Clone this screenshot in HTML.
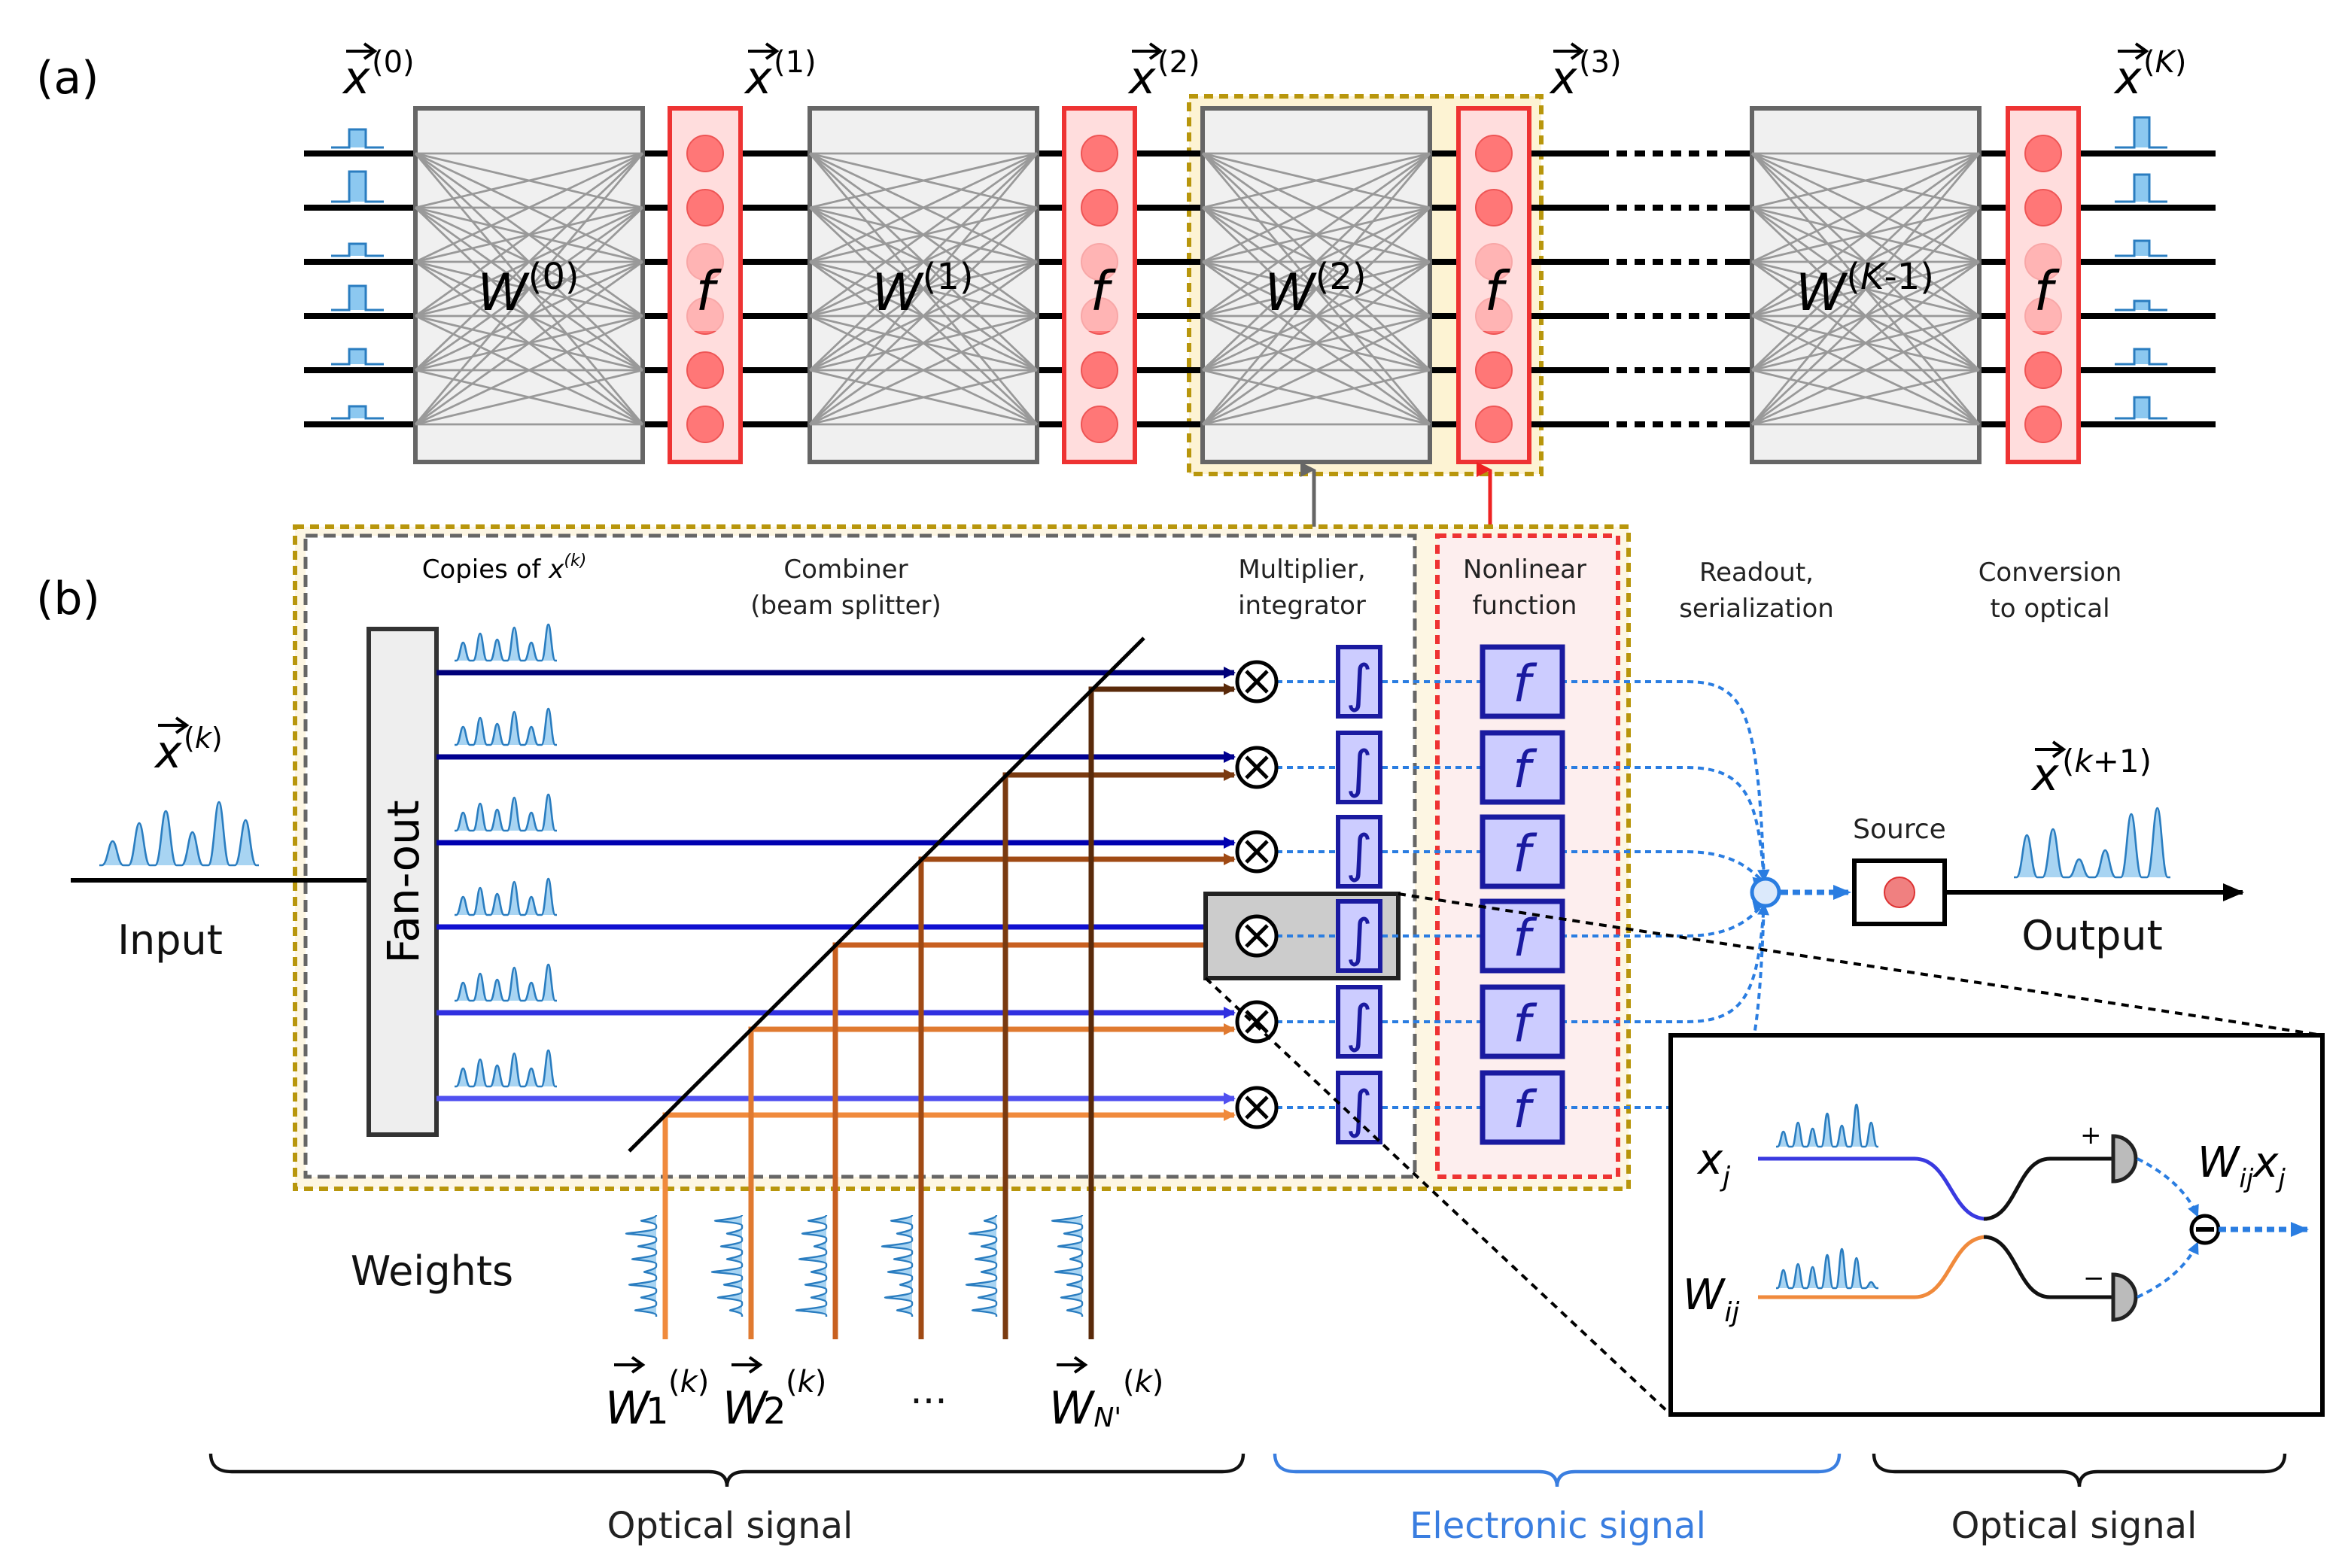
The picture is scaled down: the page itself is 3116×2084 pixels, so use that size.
<!DOCTYPE html>
<html><head><meta charset="utf-8"><style>
html,body{margin:0;padding:0;background:#fff}
svg{display:block}
text{font-family:"DejaVu Sans","Liberation Sans",sans-serif}
.it{font-style:italic}
</style></head><body>
<svg id="s" width="3116" height="2084" viewBox="0 0 1558 1042" xmlns="http://www.w3.org/2000/svg">
<defs>
<marker id="ab" markerWidth="8" markerHeight="8" refX="7" refY="4" orient="auto" markerUnits="userSpaceOnUse"><path d="M0,0 L8,4 L0,8z" fill="context-stroke"/></marker>
<marker id="ak" markerWidth="14" markerHeight="12" refX="13" refY="6" orient="auto" markerUnits="userSpaceOnUse"><path d="M0,0 L14,6 L0,12z" fill="#000"/></marker>
<marker id="abl" markerWidth="12" markerHeight="10" refX="11" refY="5" orient="auto" markerUnits="userSpaceOnUse"><path d="M0,0 L12,5 L0,10z" fill="#2a7de1"/></marker>
<marker id="ag" markerWidth="10" markerHeight="10" refX="5" refY="9" orient="auto-start-reverse" markerUnits="userSpaceOnUse"><path d="M0,0 L5,10 L10,0z" fill="#666"/></marker>
<marker id="ar" markerWidth="10" markerHeight="10" refX="5" refY="9" orient="auto-start-reverse" markerUnits="userSpaceOnUse"><path d="M0,0 L5,10 L10,0z" fill="#e22"/></marker>
</defs>
<g id="g"></g>
<!-- (a) static labels -->
<text x="24" y="62" font-size="30">(a)</text>
<text x="24" y="408" font-size="30">(b)</text>
</svg>
<script>
const g=document.getElementById('g');let h='';
const A=s=>h+=s;
// (a) yellow highlight
A('<rect x="790" y="64" width="234" height="251" fill="#fdf3d3" stroke="#b8960c" stroke-width="3" stroke-dasharray="6,4"/>');
const ys=[102,138,174,210,246,282];
// lines
ys.forEach(y=>{A(`<line x1="202" y1="${y}" x2="1062" y2="${y}" stroke="#000" stroke-width="4"/>`);
A(`<line x1="1062" y1="${y}" x2="1150" y2="${y}" stroke="#000" stroke-width="4" stroke-dasharray="7,5"/>`);
A(`<line x1="1150" y1="${y}" x2="1472" y2="${y}" stroke="#000" stroke-width="4"/>`);});
const W=[[276,'W','(0)'],[538,'W','(1)'],[799,'W','(2)'],[1164,'W','(K-1)']];
W.forEach(([x,l,s])=>{A(`<rect x="${x}" y="72" width="151" height="235" fill="#f0f0f0" stroke="#666" stroke-width="3"/>`);
ys.forEach(a=>ys.forEach(b=>A(`<line x1="${x}" y1="${a}" x2="${x+151}" y2="${b}" stroke="#999" stroke-width="1.4"/>`)));
A(`<text x="${x+75}" y="206" font-size="34" text-anchor="middle"><tspan class="it">${l}</tspan><tspan font-size="24" dy="-14">${s.replace('K','<tspan class="it">K</tspan>')}</tspan></text>`);});
[445,707,969,1334].forEach(x=>{A(`<rect x="${x}" y="72" width="47" height="235" fill="#fdd" stroke="#e33" stroke-width="3"/>`);
ys.forEach(y=>A(`<circle cx="${x+23.5}" cy="${y}" r="12" fill="#f77" stroke="#e55" stroke-width="1"/>`));
A(`<rect x="${x+3}" y="160" width="41" height="60" fill="#fdd" opacity="0.6"/><text x="${x+23.5}" y="206" font-size="36" class="it" text-anchor="middle">f</text>`);});
// x labels
[[228,'(0)'],[495,'(1)'],[750,'(2)'],[1030,'(3)'],[1405,'(K)']].forEach(([x,s])=>{
A(`<text x="${x}" y="62" font-size="30" class="it">x</text><path d="M${x+2} 34 L${x+20} 34 M${x+14} 29 L${x+21} 34 L${x+14} 39" stroke="#000" stroke-width="2" fill="none"/><text x="${x+19}" y="48" font-size="20">${s.replace('K','<tspan class="it">K</tspan>')}</text>`);});
// small pulses
const hl=[12,20,8,16,10,8],hr=[20,18,10,6,10,14];
ys.forEach((y,i)=>{let b=y-4;A(`<path d="M220 ${b} H232 V${b-hl[i]} H243 V${b} H255" fill="#8cc8f0" stroke="#2a7dc0" stroke-width="1.5"/>`);
A(`<path d="M1405 ${b} H1418 V${b-hr[i]} H1428 V${b} H1440" fill="#8cc8f0" stroke="#2a7dc0" stroke-width="1.5"/>`);});
// connecting arrows
A('<line x1="873" y1="312" x2="873" y2="355" stroke="#666" stroke-width="2.5" marker-start="url(#ag)" marker-end="url(#ag)"/>');
A('<line x1="990" y1="312" x2="990" y2="355" stroke="#e22" stroke-width="2.5" marker-start="url(#ar)" marker-end="url(#ar)"/>');
// (b) boxes
A('<rect x="196" y="350" width="886" height="440" fill="#fdf6e3" stroke="#b8960c" stroke-width="3" stroke-dasharray="6,4"/>');
A('<rect x="203" y="356" width="737" height="426" fill="#fff" stroke="#666" stroke-width="2.5" stroke-dasharray="8,4"/>');
A('<rect x="955" y="356" width="120" height="426" fill="#fdeeee" stroke="#e33" stroke-width="3" stroke-dasharray="6,4"/>');
// header labels
const lab=(x,y,t,s=17,c='#222')=>A(`<text x="${x}" y="${y}" font-size="${s}" fill="${c}" text-anchor="middle">${t}</text>`);
A('<text x="335" y="384" font-size="17" text-anchor="middle">Copies of <tspan class="it">x</tspan><tspan font-size="11" dy="-8" class="it">(k)</tspan></text>');
lab(562,384,'Combiner');lab(562,408,'(beam splitter)');
lab(865,384,'Multiplier,');lab(865,408,'integrator');
lab(1013,384,'Nonlinear');lab(1013,408,'function');
lab(1167,386,'Readout,');lab(1167,410,'serialization');
lab(1362,386,'Conversion');lab(1362,410,'to optical');
// pulse train function
function train(x0,base,w,hs,col){let d=`M${x0} ${base}`;let n=hs.length,step=w/n;
hs.forEach((hh,i)=>{let c=x0+step*(i+0.5);d+=` L${c-step*0.4} ${base} C${c-step*0.2} ${base} ${c-step*0.15} ${base-hh} ${c} ${base-hh} C${c+step*0.15} ${base-hh} ${c+step*0.2} ${base} ${c+step*0.4} ${base}`});
d+=` L${x0+w} ${base}`;A(`<path d="${d}" fill="${col||'#a8d4f2'}" stroke="#2a7dc0" stroke-width="1.3"/>`);}
// input
A('<line x1="47" y1="585" x2="245" y2="585" stroke="#000" stroke-width="3"/>');
train(66,575,106,[16,28,36,22,42,30]);
A('<text x="103" y="510" font-size="30" class="it">x</text><path d="M105 482 L123 482 M117 477 L124 482 L117 487" stroke="#000" stroke-width="2" fill="none"/><text x="122" y="497" font-size="19" >(<tspan class="it">k</tspan>)</text>');
lab(113,634,'Input',27,'#111');
A('<rect x="245" y="418" width="45" height="336" fill="#eee" stroke="#333" stroke-width="3"/>');
A('<text transform="translate(278,586) rotate(-90)" font-size="29" text-anchor="middle">Fan-out</text>');
const by=[447,503,560,616,673,730],bc=['#00007a','#000090','#0000b0','#1010d0','#3030e0','#5050f0'];
const vx=[442,499,555,612,668,725],vc=['#f08a3c','#e07a30','#c86020','#a04a14','#7a3a10','#5a2a0a'];
by.forEach((y,i)=>{train(302,y-8,68,[12,18,14,22,12,24,16].slice(0,6));
A(`<line x1="290" y1="${y}" x2="820" y2="${y}" stroke="${bc[i]}" stroke-width="3.5" marker-end="url(#ab)"/>`);});
vx.forEach((x,i)=>{let ty=765-(x-418);A(`<polyline points="${x},890 ${x},${ty} 820,${ty}" fill="none" stroke="${vc[i]}" stroke-width="3.5" marker-end="url(#ab)"/>`);
// vertical weight pulse
let d=`M${x-6} 875`;for(let k=0;k<8;k++){let yy=875-k*8.5;let hh=[14,10,18,8,16,12,20,10][(k+i*3)%8];d+=` L${x-6} ${yy-1} C${x-6} ${yy-3} ${x-6-hh} ${yy-4} ${x-6-hh} ${yy-4.25} C${x-6-hh} ${yy-4.5} ${x-6} ${yy-6} ${x-6} ${yy-8}`;}
A(`<path d="${d}" fill="#a8d4f2" stroke="#2a7dc0" stroke-width="1.2"/>`);});
A('<line x1="418" y1="765" x2="760" y2="424" stroke="#000" stroke-width="2.5"/>');
// highlight
A('<rect x="801" y="594" width="128" height="56" fill="#ccc" stroke="#222" stroke-width="3"/>');
const cy=[453,510,566,622,679,736];
cy.forEach((y,i)=>{
A(`<path d="M848 ${y} H1120 C1160 ${y} 1168 ${y<593?y+20:y-20} 1172 ${y<593?585:601}" fill="none" stroke="#2a7de1" stroke-width="2" stroke-dasharray="4,3" ${i<5?'marker-end="url(#ab)"':''}/>`);
A(`<circle cx="835" cy="${y}" r="13" fill="#fff" stroke="#000" stroke-width="2.5"/><path d="M828 ${y-7} L842 ${y+7} M842 ${y-7} L828 ${y+7}" stroke="#000" stroke-width="2.5"/>`);
A(`<rect x="889" y="${y-23}" width="28" height="46" fill="#ccf" stroke="#1a1aa0" stroke-width="3"/><text x="903" y="${y+13}" font-size="34" fill="#1a1aa0" text-anchor="middle" font-family="DejaVu Sans">∫</text>`);
A(`<rect x="985" y="${y-23}" width="53" height="46" fill="#ccf" stroke="#1a1aa0" stroke-width="3.5"/><text x="1011" y="${y+13}" font-size="34" fill="#1a1aa0" text-anchor="middle" class="it">f</text>`);});
// readout node
A('<circle cx="1173" cy="593" r="9" fill="#dbe9fb" stroke="#2a7de1" stroke-width="2.5"/>');
A('<line x1="1183" y1="593" x2="1229" y2="593" stroke="#2a7de1" stroke-width="3.5" stroke-dasharray="5,3" marker-end="url(#abl)"/>');
A('<rect x="1232" y="572" width="60" height="42" fill="#fff" stroke="#000" stroke-width="3"/><circle cx="1262" cy="593" r="10" fill="#f08080" stroke="#d33"/>');
lab(1262,557,'Source',18);
A('<line x1="1292" y1="593" x2="1490" y2="593" stroke="#000" stroke-width="3" marker-end="url(#ak)"/>');
train(1338,583,104,[28,32,12,18,42,46]);
A('<text x="1350" y="525" font-size="30" class="it">x</text><path d="M1352 498 L1370 498 M1364 493 L1371 498 L1364 503" stroke="#000" stroke-width="2" fill="none"/><text x="1370" y="513" font-size="21">(<tspan class="it">k</tspan>+1)</text>');
lab(1390,631,'Output',27,'#111');
// zoom lines
A('<line x1="929" y1="594" x2="1543" y2="688" stroke="#000" stroke-width="2" stroke-dasharray="5,4"/>');
A('<line x1="801" y1="650" x2="1110" y2="940" stroke="#000" stroke-width="2" stroke-dasharray="5,4"/>');
// inset
A('<rect x="1110" y="688" width="433" height="252" fill="#fff" stroke="#000" stroke-width="3"/>');
A('<text x="1128" y="780" font-size="28" class="it">x<tspan font-size="18" dy="8">j</tspan></text>');
A('<text x="1118" y="870" font-size="28" class="it">W<tspan font-size="18" dy="8">ij</tspan></text>');
train(1180,762,68,[10,16,12,22,14,28,16]);
train(1180,856,68,[12,16,14,22,26,20,4]);
A('<path d="M1168 770 H1272 C1296 770 1296 810 1320 810" fill="none" stroke="#3a3ae0" stroke-width="2.5"/>');
A('<path d="M1168 862 H1272 C1296 862 1296 822 1320 822" fill="none" stroke="#f08a3c" stroke-width="2.5"/>');
A('<path d="M1318 810 C1340 810 1340 770 1362 770 H1404 M1318 822 C1340 822 1340 862 1362 862 H1404" fill="none" stroke="#111" stroke-width="2.5"/>');
A('<path d="M1404 755 A15 15 0 0 1 1404 785 Z M1404 847 A15 15 0 0 1 1404 877 Z" fill="#bbb" stroke="#222" stroke-width="2.5"/>');
A('<text x="1382" y="760" font-size="17">+</text><text x="1384" y="855" font-size="17">−</text>');
A('<path d="M1420 770 Q1450 785 1460 808" fill="none" stroke="#2a7de1" stroke-width="2" stroke-dasharray="4,3" marker-end="url(#ab)"/><path d="M1420 862 Q1450 848 1460 826" fill="none" stroke="#2a7de1" stroke-width="2" stroke-dasharray="4,3" marker-end="url(#ab)"/>');
A('<circle cx="1465" cy="817" r="9" fill="#fff" stroke="#000" stroke-width="2.5"/><line x1="1459" y1="817" x2="1471" y2="817" stroke="#000" stroke-width="3"/>');
A('<line x1="1474" y1="817" x2="1533" y2="817" stroke="#2a7de1" stroke-width="3.5" stroke-dasharray="5,3" marker-end="url(#abl)"/>');
A('<text x="1460" y="782" font-size="28" class="it">W<tspan font-size="17" dy="7">ij</tspan><tspan dy="-7">x</tspan><tspan font-size="17" dy="7">j</tspan></text>');
// weights labels
lab(287,854,'Weights',27,'#111');
[[402,'1'],[480,'2']].forEach(([x,s])=>{A(`<text x="${x}" y="946" font-size="30" class="it">W</text><text x="${x+27}" y="946" font-size="24">${s}</text><text x="${x+42}" y="925" font-size="20">(<tspan class="it">k</tspan>)</text><path d="M${x+6} 907 L${x+24} 907 M${x+18} 902 L${x+25} 907 L${x+18} 912" stroke="#000" stroke-width="2" fill="none"/>`);});
lab(617,940,'···',26,'#111');
A('<text x="697" y="946" font-size="30" class="it">W<tspan font-size="18" dy="2">N\'</tspan></text><text x="746" y="925" font-size="20">(<tspan class="it">k</tspan>)</text><path d="M702 907 L720 907 M714 902 L721 907 L714 912" stroke="#000" stroke-width="2" fill="none"/>');
// braces
function brace(x1,x2,y,c){let m=(x1+x2)/2;A(`<path d="M${x1} ${y} Q${x1} ${y+12} ${x1+14} ${y+12} H${m-12} Q${m} ${y+12} ${m} ${y+22} Q${m} ${y+12} ${m+12} ${y+12} H${x2-14} Q${x2} ${y+12} ${x2} ${y}" fill="none" stroke="${c}" stroke-width="2.2"/>`);}
brace(140,826,966,'#111');brace(847,1222,966,'#3a7ee0');brace(1245,1518,966,'#111');
lab(485,1022,'Optical signal',24,'#222');lab(1035,1022,'Electronic signal',24,'#3a7ee0');lab(1378,1022,'Optical signal',24,'#222');
g.innerHTML=h;
</script>
</body></html>
